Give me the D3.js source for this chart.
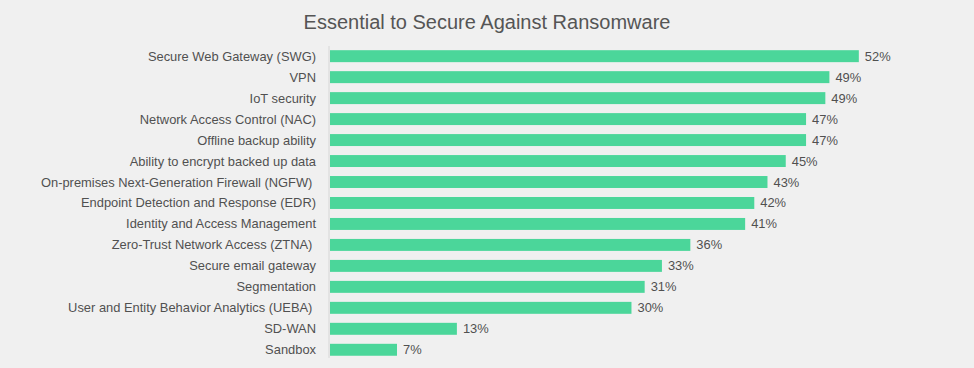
<!DOCTYPE html>
<html><head><meta charset="utf-8">
<script src="https://cdn.jsdelivr.net/npm/d3@7"></script>
<style>
html,body{margin:0;padding:0;background:#f0f0f0;}
svg{display:block;font-family:"Liberation Sans",Arial,Helvetica,sans-serif;}
text{white-space:pre;}
</style></head>
<body><svg id="chart" width="974" height="368"></svg>
<script>
const title = "Essential to Secure Against Ransomware";
const categories = [
  "Secure Web Gateway (SWG)",
  "VPN",
  "IoT security",
  "Network Access Control (NAC)",
  "Offline backup ability",
  "Ability to encrypt backed up data",
  "On-premises Next-Generation Firewall (NGFW) ",
  "Endpoint Detection and Response (EDR)",
  "Identity and Access Management",
  "Zero-Trust Network Access (ZTNA) ",
  "Secure email gateway",
  "Segmentation",
  "User and Entity Behavior Analytics (UEBA) ",
  "SD-WAN",
  "Sandbox"
];
const values = [52.2, 49.3, 48.9, 47.0, 47.0, 45.0, 43.2, 41.9, 41.0, 35.6, 32.8, 31.1, 29.8, 12.6, 6.7];

const svg = d3.select("#chart");
const leftX = 329, topY = 46, rowH = 20.93;

const x = d3.scaleLinear().domain([0, 60]).range([leftX, leftX + 609]);
const y = d3.scaleBand().domain(categories).range([topY, topY + rowH * categories.length]).paddingInner(0.43).paddingOuter(0.2);

svg.append("text")
  .attr("x", 487).attr("y", 29)
  .attr("text-anchor", "middle")
  .attr("font-size", 20)
  .attr("fill", "#555")
  .text(title);

// axis line
svg.append("line")
  .attr("x1", leftX).attr("x2", leftX)
  .attr("y1", topY).attr("y2", topY + rowH * categories.length - 2)
  .attr("stroke", "#d6d6d6").attr("stroke-width", 1);

svg.append("g").selectAll("rect").data(values).join("rect")
  .attr("x", x(0) + 1)
  .attr("y", (d, i) => y(categories[i]))
  .attr("width", d => x(d) - x(0) - 1)
  .attr("height", y.bandwidth())
  .attr("fill", "#4bd69a");

svg.append("g").selectAll("text").data(categories).join("text")
  .attr("x", leftX - 13)
  .attr("y", d => y(d) + y.bandwidth() / 2)
  .attr("dy", "0.35em")
  .attr("text-anchor", "end")
  .attr("font-size", 12.9)
  .attr("fill", "#505050")
  .text(d => d);

svg.append("g").selectAll("text").data(values).join("text")
  .attr("x", d => x(d) + 6)
  .attr("y", (d, i) => y(categories[i]) + y.bandwidth() / 2)
  .attr("dy", "0.35em")
  .attr("font-size", 12.9)
  .attr("fill", "#505050")
  .text(d => Math.round(d) + "%");
</script></body></html>
